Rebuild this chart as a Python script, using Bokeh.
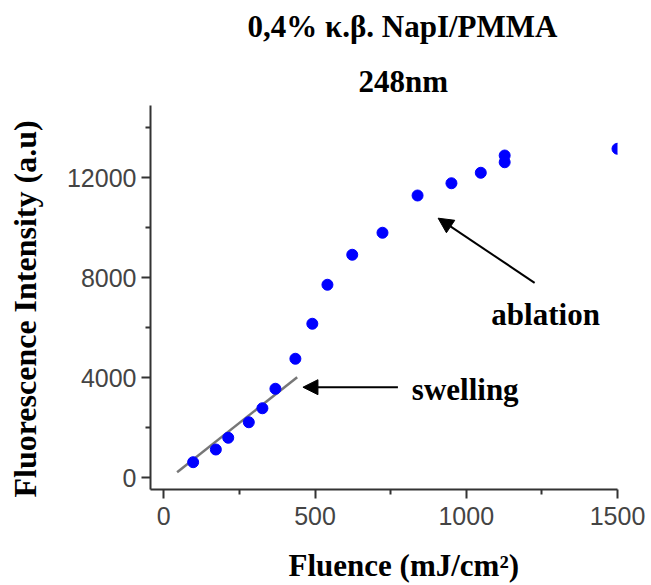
from bokeh.plotting import figure
from bokeh.models import Range1d, FixedTicker, Label, Arrow, NormalHead, Title
from bokeh.embed import file_html
from bokeh.resources import INLINE

# Data
fluence = [97, 172, 213, 281, 326, 369, 435, 491, 541, 623, 723, 839, 951, 1048, 1127, 1127, 1500]
intensity = [612, 1120, 1590, 2210, 2770, 3550, 4750, 6150, 7710, 8910, 9790, 11280, 11770, 12190, 12610, 12880, 13150]

fit_x = [44, 441]
fit_y = [212, 4013]

x_ticks = [0, 500, 1000, 1500]
x_minor = [250, 750, 1250]
y_ticks = [0, 4000, 8000, 12000]
y_minor = [2000, 6000, 10000, 14000]

title_1 = "0,4% κ.β. NapI/PMMA"
title_2 = "248nm"
x_label = "Fluence (mJ/cm²)"
y_label = "Fluorescence Intensity (a.u)"

SERIF = "Liberation Serif"
SANS = "Liberation Sans"
FS = "31px"

p = figure(width=651, height=585, output_backend="svg", toolbar_location=None,
           x_range=Range1d(-44, 1500), y_range=Range1d(-480, 14880),
           min_border_left=150, min_border_right=34, min_border_top=105, min_border_bottom=96)
p.outline_line_color = None
p.grid.visible = False
p.background_fill_color = "white"
p.border_fill_color = "white"

for ax, ticks, minor in ((p.xaxis[0], x_ticks, x_minor), (p.yaxis[0], y_ticks, y_minor)):
    ax.ticker = FixedTicker(ticks=ticks, minor_ticks=minor)
    ax.axis_line_color = "#333333"
    ax.axis_line_width = 2
    ax.major_tick_line_color = "#333333"
    ax.major_tick_line_width = 2
    ax.minor_tick_line_color = "#333333"
    ax.minor_tick_line_width = 2
    ax.major_tick_out = 9
    ax.major_tick_in = 0
    ax.minor_tick_out = 5
    ax.minor_tick_in = 0
    ax.major_label_text_font = SANS
    ax.major_label_text_font_size = "25px"
    ax.major_label_text_color = "#444444"
    # invisible spacer between tick labels and the axis title
    ax.axis_label = "\u200b"
    ax.axis_label_text_font_size = "10px"

p.xaxis.major_label_standoff = 8
p.yaxis.major_label_standoff = 5
p.xaxis.axis_label_standoff = 6
p.yaxis.axis_label_standoff = 5

p.line(fit_x, fit_y, line_color="#777777", line_width=2.5)
p.scatter(fluence, intensity, size=11, color="#0000FF", line_color="#0000FF")

def add_title(text, side, offset, standoff, valign, size=FS):
    p.add_layout(Title(text=text, align="left", offset=offset, text_font=SERIF,
                       text_font_style="bold", text_font_size=size, text_color="black",
                       standoff=standoff, vertical_align=valign), side)

add_title(title_2, "above", 208, 14, "bottom")
add_title(title_1, "above", 97, 17, "top")
add_title(x_label, "below", 138, 0, "top")
add_title(y_label, "left", -8, 0, "top", "32px")

def add_label(x, y, text):
    p.add_layout(Label(x=x, y=y, text=text, text_font=SERIF, text_font_style="bold",
                       text_font_size=FS, text_align="left", text_baseline="alphabetic",
                       text_color="black"))

add_label(820, 3520, "swelling")
add_label(1083, 6520, "ablation")

p.add_layout(Arrow(end=NormalHead(size=15, fill_color="black", line_color="black"),
                   x_start=774, y_start=3612, x_end=460, y_end=3612,
                   line_color="black", line_width=2))
p.add_layout(Arrow(end=NormalHead(size=15, fill_color="black", line_color="black"),
                   x_start=1226, y_start=7787, x_end=907, y_end=10373,
                   line_color="black", line_width=2))

open("out.html", "w").write(file_html(p, INLINE))
